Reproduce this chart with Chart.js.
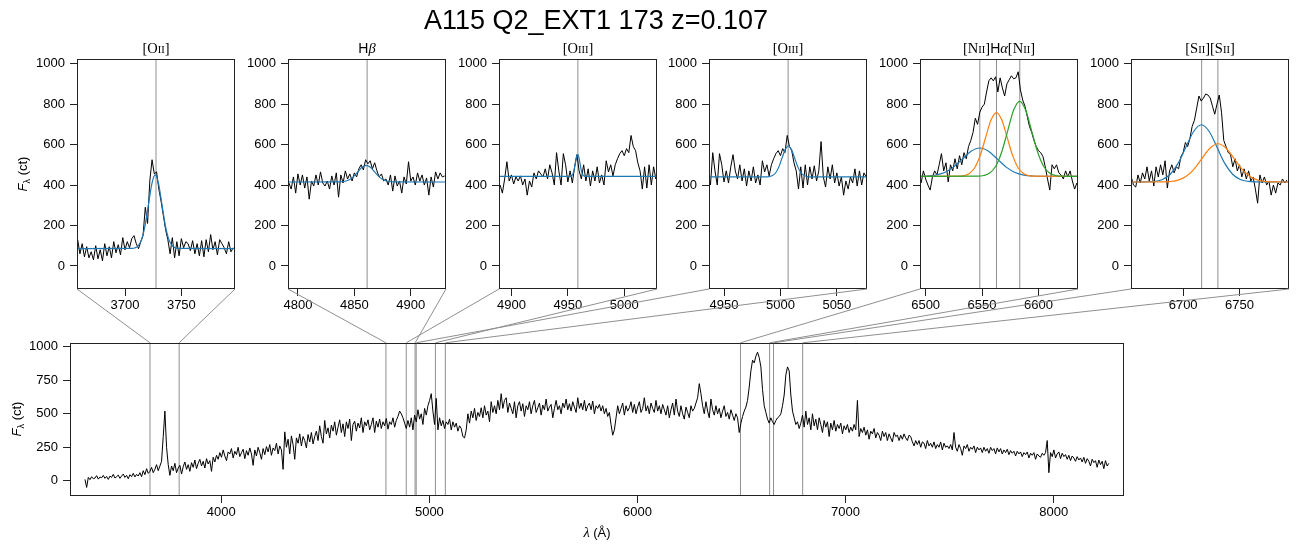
<!DOCTYPE html>
<html>
<head>
<meta charset="utf-8">
<script src="https://cdn.jsdelivr.net/npm/chart.js@4"></script>
<style>
  body { margin: 0; background: #fff; }
  #wrap { position: relative; width: 1298px; height: 545px; overflow: hidden; }
  #wrap canvas { position: absolute; }
  #overlay { z-index: 10; }
</style>
</head>
<body>
<div id="wrap"><canvas id="overlay" width="1298" height="545" style="left:0;top:0"></canvas></div>
<script>
// ---- data ----
// wavelength windows of the six zoom panels (Å)
const panelRanges = [[3657.4, 3797.6], [4791.2, 4931.2], [4889, 5029], [4936.7, 5076.7], [6495, 6635], [6653.8, 6793.8]];
// line centres marked in each zoom
const lineMarks = [[3727.5], [4861.3], [4958.9], [5006.8], [6548.0, 6562.8, 6583.4], [6716.4, 6730.8]];
const panelTicks = [[3700, 3750], [4800, 4850, 4900], [4900, 4950, 5000], [4950, 5000, 5050], [6500, 6550, 6600], [6700, 6750]];
const zoomYTicks = [0, 200, 400, 600, 800, 1000];
const bigXTicks = [4000, 5000, 6000, 7000, 8000];
const bigYTicks = [0, 250, 500, 750, 1000];

// zoom spectra, one sample per 2 Å
const oiiStart = 3658;
const oiiFlux = [130, 60, 110, 45, 95, 40, 70, 30, 100, 35,
  80, 25, 110, 50, 95, 40, 120, 65, 105, 55,
  140, 80, 120, 90, 135, 150, 110, 85, 120, 150,
  290, 210, 420, 525, 455, 465, 380, 320, 250, 180,
  130, 60, 140, 40, 120, 50, 135, 90, 120, 110,
  75, 125, 60, 110, 50, 125, 45, 130, 70, 155,
  80, 120, 55, 130, 110, 90, 60, 120, 70, 90];
const hbStart = 4792;
const hbFlux = [410, 380, 440, 360, 455, 400, 450, 385, 440, 330,
  420, 395, 450, 400, 465, 410, 395, 420, 380, 445,
  400, 460, 340, 450, 410, 470, 430, 455, 420, 460,
  440, 480, 500, 475, 525, 505, 520, 480, 510, 470,
  440, 455, 420, 430, 400, 450, 370, 445, 395, 420,
  360, 440, 405, 515, 420, 440, 400, 460, 420, 450,
  400, 435, 350, 440, 390, 465, 430, 460, 440, 445];
const oiiiStart = 4890;
const oiiiFlux = [400, 360, 430, 515, 420, 450, 405, 440, 420, 445,
  400, 430, 350, 420, 390, 460, 430, 470, 455, 440,
  480, 430, 500, 460, 400, 560, 470, 400, 555, 500,
  415, 470, 410, 490, 550, 470, 430, 500, 420, 480,
  395, 470, 420, 490, 410, 450, 400, 520, 465, 500,
  445, 500, 530, 555, 570, 545, 580, 560, 645, 590,
  570, 510, 470, 380, 490, 385, 500, 400, 490, 430,
  495, 420, 470, 615, 440, 390, 490, 430, 500, 410,
  460, 395, 440, 350, 420, 380, 440, 410, 480, 395,
  470, 400, 460, 440];
const haStart = 6496;
const haFlux = [410, 470, 430, 400, 375, 440, 470, 450, 500, 555,
  470, 510, 415, 500, 470, 530, 480, 545, 500, 560,
  530, 590, 620, 660, 730, 700, 760, 785, 800, 860,
  915, 930, 915, 935, 860, 930, 880, 840, 900, 920,
  940, 925, 930, 960, 870, 820, 790, 740, 690, 660,
  620, 590, 570, 560, 540, 490, 430, 375, 500, 480,
  500, 460, 450, 430, 470, 440, 470, 420, 380, 410];
const siiStart = 6654;
const siiFlux = [440, 400, 390, 450, 410, 460, 430, 490, 420, 470,
  395, 490, 440, 500, 450, 520, 385, 470, 500, 460,
  490, 480, 540, 560, 610, 590, 630, 690, 720, 780,
  840, 815, 830, 850, 845, 830, 790, 750, 800, 845,
  760, 620, 590, 560, 550, 490, 530, 470, 500, 440,
  480, 430, 470, 420, 440, 380, 310, 450, 410, 440,
  400, 420, 350, 400, 360, 410, 400, 430, 410, 425];

// fitted profiles, [wavelength, flux]
const oiiFit = [[3657.4, 86], [3706.15, 86.8], [3709.1, 90], [3712.05, 102], [3715, 135.2], [3717.95, 204.2], [3720.9, 306.8], [3723.85, 407.2], [3726.8, 450], [3729.75, 407.2], [3732.7, 306.8], [3735.65, 204.2], [3738.6, 135.2], [3741.55, 102], [3744.5, 90], [3747.45, 86.8], [3797.6, 86]];
const hbFit = [[4791.2, 415], [4834.25, 415.2], [4838, 415.9], [4841.75, 418.6], [4845.5, 426.1], [4849.25, 441.6], [4853, 464.7], [4856.75, 487.4], [4860.5, 497], [4864.25, 487.4], [4868, 464.7], [4871.75, 441.6], [4875.5, 426.1], [4879.25, 418.6], [4883, 415.9], [4886.75, 415.2], [4931.2, 415]];
const oiii4959Fit = [[4889, 443], [4951.7, 443.2], [4952.7, 444.2], [4953.7, 447.8], [4954.7, 457.7], [4955.7, 478.4], [4956.7, 509.1], [4957.7, 539.2], [4958.7, 552], [4959.7, 539.2], [4960.7, 509.1], [4961.7, 478.4], [4962.7, 457.7], [4963.7, 447.8], [4964.7, 444.2], [4965.7, 443.2], [5029, 443]];
const oiii5007Fit = [[4936.7, 440], [4987.4, 440.3], [4990.2, 441.7], [4993, 446.7], [4995.8, 460.7], [4998.6, 489.7], [5001.4, 532.8], [5004.2, 575], [5007, 593], [5009.8, 575], [5012.6, 532.8], [5015.4, 489.7], [5018.2, 460.7], [5021, 446.7], [5023.8, 441.7], [5026.6, 440.3], [5076.7, 440]];
const nii6548Fit = [[6495, 443.4], [6501.2, 444.6], [6509, 449.1], [6516.8, 461.9], [6524.6, 488.5], [6532.4, 527.9], [6540.2, 566.6], [6548, 583], [6555.8, 566.6], [6563.6, 527.9], [6571.4, 488.5], [6579.2, 461.9], [6587, 449.1], [6594.8, 444.6], [6602.6, 443.3], [6635, 443]];
const haFit = [[6495, 443], [6529.1, 443.7], [6533.9, 446.5], [6538.7, 456.8], [6543.5, 485.6], [6548.3, 545.3], [6553.1, 634], [6557.9, 721], [6562.7, 758], [6567.5, 721], [6572.3, 634], [6577.1, 545.3], [6581.9, 485.6], [6586.7, 456.8], [6591.5, 446.5], [6596.3, 443.7], [6635, 443]];
const nii6584Fit = [[6495, 443], [6546.2, 443.8], [6551.5, 447.1], [6556.8, 459.3], [6562.1, 493.2], [6567.4, 563.5], [6572.7, 668], [6578, 770.4], [6583.3, 814], [6588.6, 770.4], [6593.9, 668], [6599.2, 563.5], [6604.5, 493.2], [6609.8, 459.3], [6615.1, 447.1], [6620.4, 443.8], [6635, 443]];
const sii6716Fit = [[6653.8, 415], [6667.9, 415.6], [6674.8, 418.1], [6681.7, 427.4], [6688.6, 453.3], [6695.5, 506.9], [6702.4, 586.6], [6709.3, 664.7], [6716.2, 698], [6723.1, 664.7], [6730, 586.6], [6736.9, 506.9], [6743.8, 453.3], [6750.7, 427.4], [6757.6, 418.1], [6764.5, 415.6], [6793.8, 415]];
const sii6731Fit = [[6653.8, 415], [6680.5, 415.4], [6687.7, 417.1], [6694.9, 423.3], [6702.1, 440.6], [6709.3, 476.4], [6716.5, 529.6], [6723.7, 581.8], [6730.9, 604], [6738.1, 581.8], [6745.3, 529.6], [6752.5, 476.4], [6759.7, 440.6], [6766.9, 423.3], [6774.1, 417.1], [6781.3, 415.4], [6793.8, 415]];

// full spectrum, one sample per 8 Å
const bigStart = 3345;
const bigFlux = [10, -50, 25, 8, 30, 15, 20, 38, 12, 28,
  22, 40, 18, 32, 10, 35, 25, 48, 20, 30,
  42, 18, 35, 50, 25, 40, 15, 45, 30, 55,
  28, 48, 35, 60, 30, 75, 45, 90, 55, 70,
  100, 60, 85, 120, 75, 110, 145, 330, 520, 250,
  120, 40, 110, 75, 130, 60, 95, 115, 50, 105,
  140, 85, 120, 70, 135, 100, 155, 90, 130, 160,
  110, 145, 95, 165, 125, 150, 70, 175, 140, 190,
  160, 210, 175, 230, 185, 150, 215, 200, 240, 170,
  220, 195, 250, 180, 210, 235, 165, 225, 190, 245,
  200, 115, 230, 185, 250, 210, 160, 240, 195, 255,
  215, 270, 190, 245, 225, 280, 200, 260, 230, 85,
  365, 250, 310, 200, 335, 270, 160, 320, 280, 350,
  260, 330, 300, 245, 345, 290, 360, 275, 330, 370,
  300, 410, 330, 280, 450, 350, 395, 320, 415, 370,
  440, 340, 400, 455, 360, 425, 330, 440, 390, 460,
  300, 420, 445, 370, 430, 395, 470, 360, 440, 410,
  455, 380, 420, 470, 360, 445, 400, 460, 390, 440,
  410, 465, 385, 440, 420, 470, 400, 450, 480, 520,
  500, 470, 430, 390, 450, 400, 470, 380, 490, 440,
  530, 460, 500, 420, 540, 490, 560, 600, 650, 520,
  420, 615, 380, 470, 410, 450, 390, 440, 420, 460,
  380, 440, 400, 430, 370, 410, 390, 330, 320, 380,
  500, 430, 520, 470, 540, 450, 510, 480, 545, 470,
  560, 490, 520, 440, 590, 510, 560, 500, 600, 530,
  650, 540, 600, 620, 510, 580, 540, 500, 590, 470,
  560, 590, 520, 575, 480, 560, 530, 590, 500, 560,
  600, 510, 545, 580, 490, 565, 530, 610, 520, 550,
  570, 470, 540, 600, 530, 560, 500, 580, 545, 610,
  530, 575, 520, 590, 550, 510, 620, 540, 580, 530,
  600, 520, 560, 580, 530, 595, 500, 560, 540, 570,
  520, 560, 500, 540, 480, 510, 420, 340, 380, 470,
  560, 500, 540, 580, 490, 560, 520, 545, 590, 510,
  570, 500, 550, 590, 510, 540, 620, 520, 560, 500,
  580, 540, 510, 600, 520, 560, 500, 570, 530, 490,
  560, 470, 530, 580, 490, 610, 520, 480, 560, 500,
  460, 550, 510, 470, 560, 520, 540, 580, 620, 725,
  650, 560, 500, 590, 520, 470, 610, 530, 490, 560,
  500, 540, 470, 520, 560, 480, 510, 460, 530, 490,
  450, 500, 470, 360, 430, 480, 520, 550, 600, 700,
  820, 900, 880, 930, 960, 920, 850, 680, 560, 510,
  460, 430, 470, 440, 420, 450, 470, 480, 500, 560,
  640, 790, 850, 820, 640, 520, 470, 420, 440, 390,
  430, 490, 400, 520, 420, 470, 380, 500, 410, 460,
  380, 470, 420, 360, 450, 400, 440, 330, 430, 380,
  450, 370, 420, 390, 430, 350, 410, 380, 420, 360,
  400, 370, 420, 380, 600, 330, 390, 360, 400, 340,
  380, 310, 370, 350, 390, 320, 360, 340, 300, 370,
  330, 360, 300, 350, 320, 290, 360, 330, 340, 300,
  340, 310, 350, 320, 300, 340, 330, 290, 260, 300,
  270, 300, 250, 290, 280, 240, 300, 260, 280, 250,
  290, 240, 270, 250, 290, 230, 280, 250, 260, 240,
  270, 230, 360, 250, 220, 270, 240, 190, 260, 240,
  270, 220, 250, 235, 260, 210, 250, 230, 245, 210,
  250, 220, 240, 205, 250, 225, 240, 200, 245, 215,
  240, 200, 230, 210, 235, 195, 225, 205, 220, 185,
  220, 200, 215, 180, 210, 195, 215, 170, 205, 190,
  210, 160, 200, 185, 175, 205, 190, 210, 300, 60,
  210, 180, 230, 170, 200, 215, 165, 205, 180, 195,
  160, 190, 150, 185, 170, 145, 180, 155, 170, 140,
  175, 130, 165, 145, 110, 160, 135, 150, 100, 155,
  120, 145, 90, 150, 110, 130];

// ---- drawing ----
const FONT = '"Liberation Sans", Arial, Helvetica, sans-serif';
const SERIF = '14.5px "Liberation Serif", "Times New Roman", serif';
const SMALL = '10.5px "Liberation Serif", "Times New Roman", serif';
const SANS = '14px ' + FONT;
const GREEK = 'italic 14.5px "Liberation Serif", "Times New Roman", serif';
const GREY = '#8f8f8f';
const BLUE = '#1f77b4', ORANGE = '#ff7f0e', GREEN = '#2ca02c';

const ZY_MIN = -114, ZY_MAX = 1023;
const BY_MIN = -114, BY_MAX = 1030;

function toPoints(start, step, flux) {
  return flux.map((v, i) => ({x: start + i * step, y: v}));
}
function pairs(arr) {
  return arr.map(p => ({x: p[0], y: p[1]}));
}

const zoomData = [
  toPoints(oiiStart, 2, oiiFlux),
  toPoints(hbStart, 2, hbFlux),
  toPoints(oiiiStart, 2, oiiiFlux),
  toPoints(oiiiStart, 2, oiiiFlux),
  toPoints(haStart, 2, haFlux),
  toPoints(siiStart, 2, siiFlux)
];
const zoomFits = [
  [[oiiFit, BLUE]],
  [[hbFit, BLUE]],
  [[oiii4959Fit, BLUE]],
  [[oiii5007Fit, BLUE]],
  [[nii6548Fit, BLUE], [haFit, ORANGE], [nii6584Fit, GREEN]],
  [[sii6716Fit, BLUE], [sii6731Fit, ORANGE]]
];
const titles = [
  [['[O', SERIF], ['II', SMALL], [']', SERIF]],
  [['H', SANS], ['\u03B2', GREEK]],
  [['[O', SERIF], ['III', SMALL], [']', SERIF]],
  [['[O', SERIF], ['III', SMALL], [']', SERIF]],
  [['[N', SERIF], ['II', SMALL], [']', SERIF], ['H', SANS], ['\u03B1', GREEK], ['[N', SERIF], ['II', SMALL], [']', SERIF]],
  [['[S', SERIF], ['II', SMALL], [']', SERIF], ['[S', SERIF], ['II', SMALL], [']', SERIF]]
];

const boxPlugin = {
  id: 'box',
  afterDraw(chart) {
    const a = chart.chartArea, ctx = chart.ctx;
    ctx.save();
    ctx.strokeStyle = '#222';
    ctx.lineWidth = 1;
    ctx.strokeRect(Math.round(a.left) + 0.5, Math.round(a.top) + 0.5, Math.round(a.right - a.left) - 1, Math.round(a.bottom - a.top) - 1);
    ctx.restore();
  }
};

function addCanvas(left, top, w, h) {
  const c = document.createElement('canvas');
  c.width = w; c.height = h;
  c.style.left = left + 'px'; c.style.top = top + 'px';
  c.style.width = w + 'px'; c.style.height = h + 'px';
  document.getElementById('wrap').appendChild(c);
  return c;
}

function axis(min, max, ticks, size, isX) {
  return {
    type: 'linear', min: min, max: max,
    afterBuildTicks: s => { s.ticks = ticks.map(v => ({value: v})); },
    afterFit: s => { if (isX) s.height = size; else s.width = size; },
    grid: {drawOnChartArea: false, drawTicks: true, tickLength: 7, color: '#222', lineWidth: 1},
    border: {display: false},
    ticks: {color: '#000', font: {family: FONT, size: 13}, padding: isX ? 2 : 5,
            autoSkip: false, maxRotation: 0, callback: v => String(v)}
  };
}

function baseOptions(padding, xs, ys) {
  return {
    responsive: false, animation: false, events: [], devicePixelRatio: 1,
    layout: {padding: padding},
    plugins: {legend: {display: false}, tooltip: {enabled: false}},
    elements: {point: {radius: 0}, line: {tension: 0}},
    scales: {x: xs, y: ys}
  };
}

const zoomPos = [];
const zoomCharts = [];
const PW = 158, PH = 230, PTOP = 59;
for (let i = 0; i < 6; i++) {
  const plotLeft = Math.round(77.3 + i * 210.7);
  const cl = plotLeft - 60, ct = PTOP - 31;
  const canvas = addCanvas(cl, ct, 60 + PW + 4, 31 + PH + 30);
  zoomPos.push({left: cl, top: ct});
  const [lo, hi] = panelRanges[i];
  const datasets = [];
  lineMarks[i].forEach(l => datasets.push({
    data: [{x: l, y: ZY_MIN}, {x: l, y: ZY_MAX}], borderColor: GREY, borderWidth: 1, order: 100
  }));
  datasets.push({data: zoomData[i], borderColor: '#000', borderWidth: 1, order: 50});
  zoomFits[i].forEach((f, j) => datasets.push({
    data: pairs(f[0]), borderColor: f[1], borderWidth: 1.2,
    cubicInterpolationMode: 'monotone', order: 10 - j
  }));
  zoomCharts.push(new Chart(canvas, {
    type: 'line',
    data: {datasets: datasets},
    options: baseOptions({top: 31, right: 4, bottom: 0, left: 0},
      axis(lo, hi, panelTicks[i], 30, true),
      axis(ZY_MIN, ZY_MAX, zoomYTicks, 60, false)),
    plugins: [boxPlugin]
  }));
}

// big spectrum
const bigPos = {left: 0, top: 330};
const bigCanvas = addCanvas(bigPos.left, bigPos.top, 1130, 206);
const bigSets = panelRanges.flat().map(l => ({
  data: [{x: l, y: BY_MIN}, {x: l, y: BY_MAX}], borderColor: GREY, borderWidth: 1, order: 100
}));
bigSets.push({data: toPoints(bigStart, 8, bigFlux), borderColor: '#000', borderWidth: 1, order: 0});
const bigChart = new Chart(bigCanvas, {
  type: 'line',
  data: {datasets: bigSets},
  options: baseOptions({top: 12, right: 6, bottom: 0, left: 0},
    axis(3273, 8338, bigXTicks, 40, true),
    axis(BY_MIN, BY_MAX, bigYTicks, 70, false)),
  plugins: [boxPlugin]
});

// ---- overlay: titles, labels, connectors ----
function drawSegs(ctx, segs, cx, y) {
  let w = 0;
  segs.forEach(s => { ctx.font = s[1]; w += ctx.measureText(s[0]).width; });
  let x = cx - w / 2;
  ctx.textAlign = 'left';
  segs.forEach(s => {
    ctx.font = s[1];
    ctx.fillText(s[0], x, y + (s[2] || 0));
    x += ctx.measureText(s[0]).width;
  });
}

const ov = document.getElementById('overlay').getContext('2d');
ov.fillStyle = '#000';
ov.textBaseline = 'alphabetic';
ov.font = '27px ' + FONT;
ov.textAlign = 'center';
ov.fillText('A115 Q2_EXT1 173 z=0.107', 596, 29);

const bx = bigChart.scales.x;
const bigTop = bigPos.top + bigChart.chartArea.top;
ov.strokeStyle = GREY;
ov.lineWidth = 1;
zoomCharts.forEach((ch, i) => {
  const a = ch.chartArea, p = zoomPos[i];
  const [lo, hi] = panelRanges[i];
  const bottom = p.top + a.bottom;
  ov.beginPath();
  ov.moveTo(p.left + a.left, bottom);
  ov.lineTo(bigPos.left + bx.getPixelForValue(lo), bigTop);
  ov.moveTo(p.left + a.right, bottom);
  ov.lineTo(bigPos.left + bx.getPixelForValue(hi), bigTop);
  ov.stroke();
  drawSegs(ov, titles[i], p.left + (a.left + a.right) / 2, 53);
});

const yLabel = [['F', 'italic 13px ' + FONT], ['\u03BB', '9px ' + FONT, 3], [' (ct)', '13px ' + FONT]];
[[27, 174], [20.5, 419]].forEach(pos => {
  ov.save();
  ov.translate(pos[0], pos[1]);
  ov.rotate(-Math.PI / 2);
  drawSegs(ov, yLabel, 0, 0);
  ov.restore();
});
drawSegs(ov, [['\u03BB', GREEK], [' (\u00C5)', '13px ' + FONT]], 597, 537);
</script>
</body>
</html>
